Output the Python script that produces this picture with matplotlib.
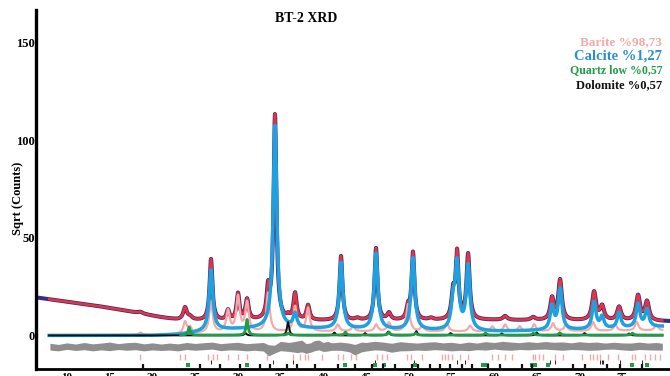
import numpy as np
import matplotlib
matplotlib.use("Agg")
import matplotlib.pyplot as plt

# ---------------- data ----------------
# observed background (2theta, sqrt counts)
bg_x = [6.4, 10, 14, 18, 21, 23, 26, 30, 40, 50, 60, 70, 80.6]
bg_y = [19.5, 17.3, 14.8, 11.8, 9.3, 8.0, 7.5, 7.5, 7.5, 7.5, 7.8, 7.5, 7.2]

# observed / calculated peaks (position, net height, half width)
obs_pos = [18.6, 23.82, 24.4, 26.86, 28.85, 30.02, 31.08, 33.54, 34.35, 35.88,
           36.70, 38.22, 42.08, 44.0, 46.18, 47.70, 49.93, 50.51, 52.6, 55.20,
           55.67, 56.96, 61.29, 64.57, 66.79, 67.73, 71.71, 72.65, 74.64, 76.86, 77.91]
obs_h = [0.8, 6.2, 1.5, 31.5, 5.0, 13.5, 10.5, 14.5, 105.0, 1.5,
         13.5, 7.5, 33.0, 1.0, 37.0, 3.5, 6.0, 34.5, 1.0, 13.0,
         33.5, 33.5, 2.0, 1.5, 11.0, 20.5, 14.5, 7.0, 7.0, 12.8, 9.7]
obs_w = [0.3, 0.25, 0.3, 0.2, 0.2, 0.2, 0.22, 0.2, 0.2, 0.2,
         0.22, 0.22, 0.2, 0.3, 0.2, 0.25, 0.22, 0.2, 0.3, 0.22,
         0.2, 0.22, 0.3, 0.3, 0.25, 0.25, 0.28, 0.28, 0.28, 0.28, 0.28]

# Calcite (blue) component
blue_base_x = [7.9, 20, 23, 25, 28, 32, 38, 45, 52, 60, 66, 72, 79.7]
blue_base_y = [0, 0, 0.5, 1.5, 3.0, 3.5, 3.5, 3.0, 2.5, 2.0, 2.5, 3.0, 4.5]
blue_pos = [26.86, 34.35, 36.70, 42.08, 46.18, 50.51, 55.20, 55.67, 56.96,
            66.79, 67.73, 71.71, 72.65, 74.64, 76.86, 77.91]
blue_h = [31, 104, 7, 34, 39, 37, 13, 33, 33, 12, 21, 14, 6, 8, 12, 9]

# Barite (pink) component
pink_base_x = [7.9, 20, 30, 40, 60, 79.7]
pink_base_y = [0, 0.3, 1.5, 2.0, 2.0, 2.5]
pink_pos = [18.6, 23.82, 24.4, 26.86, 28.85, 30.02, 31.08, 33.54, 36.70, 38.22,
            41.7, 43.5, 46.2, 47.70, 49.93, 51.6, 54.5, 57.2, 59.8, 61.3,
            63.0, 64.7, 66.9, 68.4, 71.6, 74.2, 76.7, 79.0]
pink_h = [1.2, 6.0, 3.0, 16, 11, 18, 15, 20, 13, 12,
          3.5, 2.5, 3.5, 4.5, 14, 2.5, 4.0, 3.0, 2.5, 3.5,
          2.5, 3.5, 4.0, 3.0, 4.5, 3.0, 4.5, 3.0]

# Quartz low (green) component
green_pos = [24.3, 31.08, 35.9, 42.6, 47.7, 50.8, 59.0, 64.6, 67.7, 76.2]
green_h = [4.0, 8.0, 1.0, 1.5, 1.5, 1.0, 1.0, 1.0, 1.2, 1.0]

# Dolomite (black) component
black_pos = [30.9, 35.88, 41.3, 44.9, 47.6, 50.9, 54.9, 60.9, 65.0, 70.6, 75.8]
black_h = [1.2, 6.8, 1.5, 1.2, 2.0, 2.2, 1.2, 1.0, 1.5, 1.2, 1.0]

# difference curve envelope (estimated, jagged band)
diff_x = [8, 9, 10, 11, 12, 13, 14, 15, 16, 17, 18, 19, 20, 21, 22, 23, 24, 25,
          26, 27, 28, 29, 30, 31, 32, 33, 33.6, 34.3, 35, 36, 37, 37.5, 38, 38.5,
          39, 39.5, 40, 40.5, 41, 42, 43, 43.7, 44.5, 45, 46, 47, 48, 49, 50, 51,
          52, 53, 54, 55, 56, 57, 58, 59, 60, 61, 62, 63, 64, 65, 66, 67, 68, 69,
          70, 71, 72, 73, 74, 75, 76, 77, 78, 79, 79.7]
diff_hi = [-4, -4.6, -3.8, -4.4, -3.6, -4.3, -3.9, -3.4, -4.2, -3.7, -3.5, -4.3,
           -3.8, -4.4, -3.9, -4.3, -3.6, -4.1, -3.7, -3.4, -4.2, -3.8, -3.5, -4.2,
           -3.9, -3.6, -4.8, -5, -3.0, -3.6, -2.8, -2.4, -4.2, -3.8, -2.6, -2.4,
           -3.6, -3.0, -3.8, -3.4, -3.9, -4.6, -3.4, -3.6, -3.0, -3.4, -4.0, -3.2,
           -3.6, -3.9, -3.5, -3.2, -3.8, -3.5, -4.1, -3.4, -3.9, -3.2, -3.6, -3.0,
           -3.4, -3.7, -3.2, -3.6, -3.1, -3.5, -3.3, -3.8, -3.2, -3.6, -3.4, -3.9,
           -3.5, -3.8, -3.9, -3.4, -3.9, -3.6, -4.0]
diff_lo = [-7.5, -7.9, -7.1, -7.7, -7.3, -7.9, -7.4, -7.8, -7.2, -7.6, -7.3, -7.9,
           -7.4, -7.7, -7.5, -7.9, -7.2, -7.6, -7.3, -7.0, -7.8, -7.4, -7.5, -7.9,
           -7.6, -8.0, -10.5, -9.0, -7.8, -8.2, -8.8, -8.4, -9.2, -8.6, -7.8, -7.4,
           -8.2, -8.0, -7.6, -7.6, -8.3, -10.0, -8.4, -8.0, -7.4, -7.6, -8.6, -7.9,
           -7.8, -7.5, -7.7, -7.3, -7.5, -7.9, -7.6, -7.8, -7.3, -7.5, -7.0, -7.4,
           -7.6, -7.2, -7.4, -7.1, -7.0, -7.3, -7.6, -7.2, -7.3, -7.6, -7.5, -7.1,
           -7.0, -7.4, -7.7, -7.2, -7.4, -7.5, -7.5]

# reflection markers
pink_ticks = [18.5, 23.2, 23.8, 26.5, 27.1, 27.6, 28.9, 30.0, 31.1, 33.4, 36.5,
              37.3, 37.9, 38.2, 39.9, 41.7, 42.3, 43.3, 43.8, 46.3, 46.9, 47.5,
              49.8, 50.3, 51.6, 53.9, 54.3, 54.6, 55.1, 56.0, 56.9, 59.8, 60.5,
              61.3, 62.1, 64.6, 64.8, 65.3, 65.7, 67.1, 68.1, 70.3, 71.2, 71.6,
              72.1, 72.4, 73.3, 74.5, 76.2, 76.5, 77.7, 78.3, 78.9, 79.4]
calc_ticks = [26.9, 34.1, 36.5, 46.1, 50.6, 55.7, 56.6, 66.6, 67.1, 72.4, 72.6,
              72.8, 74.8, 77.3]
quartz_ticks = [24.2, 31.1, 42.6, 46.1, 47.1, 50.8, 58.7, 59.2, 64.5, 64.8,
                66.3, 76.2, 77.9]
dolo_ticks = [18.9, 25.6, 27.9, 30.3, 32.6, 33.8, 35.8, 36.9, 39.0, 41.7, 43.7,
              45.7, 47.0, 48.4, 50.4, 51.1, 52.5, 53.7, 54.8, 56.3, 57.4, 59.3,
              60.7, 63.3, 64.5, 69.2, 70.7, 73.2, 74.8, 77.3]

x_ticks = [10, 15, 20, 25, 30, 35, 40, 45, 50, 55, 60, 65, 70, 75]
y_ticks = [0, 50, 100, 150]

legend_items = ["Barite %98,73", "Calcite %1,27", "Quartz low %0,57", "Dolomite %0,57"]

# ---------------- helpers ----------------
def lorentz(x, pos, h, w):
    out = np.zeros_like(x)
    ws = w if np.ndim(w) else [w] * len(pos)
    for p, a, g in zip(pos, h, ws):
        out += a * g * g / ((x - p) ** 2 + g * g)
    return out

x_obs = np.linspace(6.4, 80.6, 4000)
x_calc = np.linspace(7.9, 79.7, 4000)

obs = np.interp(x_obs, bg_x, bg_y) + lorentz(x_obs, obs_pos, obs_h, obs_w)
calc = np.interp(x_calc, bg_x, bg_y) + lorentz(x_calc, obs_pos, obs_h, obs_w)
blue = np.interp(x_calc, blue_base_x, blue_base_y) + lorentz(x_calc, blue_pos, blue_h, 0.26)
pink = np.interp(x_calc, pink_base_x, pink_base_y) + lorentz(x_calc, pink_pos, pink_h, 0.24)
x_green = np.linspace(23.3, 79.7, 3000)
green = 0.2 + lorentz(x_green, green_pos, green_h, 0.14)
black = lorentz(x_calc, black_pos, black_h, 0.15)

# ---------------- figure ----------------
plt.rcParams['font.family'] = ['Liberation Serif', 'DejaVu Serif']
plt.rcParams['font.weight'] = 'bold'

fig = plt.figure(figsize=(6.7, 3.76), dpi=100)
ax = fig.add_axes([36 / 670, 7 / 376, 1 - 36 / 670, 359 / 376])

C_OBS = '#3b2a86'
C_CALC = '#e8343c'
C_PINK = '#f5a9aa'
C_BLUE = '#1ea2df'
C_GREEN = '#1f9c45'
C_GRAY = '#8e8e8e'

ax.fill_between(diff_x, diff_lo, diff_hi, color=C_GRAY, lw=0, zorder=2)
ax.plot(x_obs, obs, color=C_OBS, lw=2.9, zorder=2, solid_capstyle='round')
ax.plot(x_calc, calc, color=C_CALC, lw=1.8, zorder=3)
ax.plot(x_calc, pink, color=C_PINK, lw=1.6, zorder=4)
ax.plot(x_calc, blue, color=C_BLUE, lw=2.5, zorder=5)
ax.plot(x_calc, black, color='#111111', lw=1.4, zorder=6)
ax.plot(x_green, green, color=C_GREEN, lw=2.0, zorder=7)

ax.plot(pink_ticks, [-11] * len(pink_ticks), ls='none', marker='|', ms=4,
        mew=1.0, color=C_PINK, zorder=4)
ax.plot(calc_ticks, [-13.5] * len(calc_ticks), ls='none', marker='|', ms=3.5,
        mew=0.7, color='#222222', zorder=4)
ax.plot(quartz_ticks, [-15] * len(quartz_ticks), ls='none', marker='s', ms=2.2,
        mew=0, color=C_GREEN, zorder=4)
ax.plot(dolo_ticks, [-16.2] * len(dolo_ticks), ls='none', marker='|', ms=4,
        mew=1.6, color='#111111', zorder=4)

ax.set_xlim(6.37, 80.6)
ax.set_ylim(-17.2, 166.9)
ax.set_xticks(x_ticks)
ax.set_yticks(y_ticks)
ax.tick_params(axis='x', length=0, pad=3, labelsize=8)
ax.tick_params(axis='y', length=0, pad=1, labelsize=9)
for lab in ax.get_xticklabels() + ax.get_yticklabels():
    lab.set_fontweight('bold')

for s in ['top', 'right']:
    ax.spines[s].set_visible(False)
ax.spines['left'].set_linewidth(2.4)
ax.spines['bottom'].set_linewidth(2.0)

fig.text(18 / 670, 1 - 198 / 376, 'Sqrt (Counts)', rotation=90, ha='center',
         va='center', fontsize=9, fontweight='bold')
fig.text(306 / 670, 1 - 18 / 376, 'BT-2 XRD', ha='center', va='center',
         fontsize=10, fontweight='bold')

leg_colors = [C_PINK, '#2b8fd3', C_GREEN, '#111111']
leg_sizes = [9.5, 10.5, 8.5, 9]
leg_y = [42, 56, 70, 85]
for t, c, s, yy in zip(legend_items, leg_colors, leg_sizes, leg_y):
    fig.text(662 / 670, 1 - yy / 376, t, ha='right', va='center', color=c,
             fontsize=s, fontweight='bold')

fig.savefig('out.png', dpi=100)
